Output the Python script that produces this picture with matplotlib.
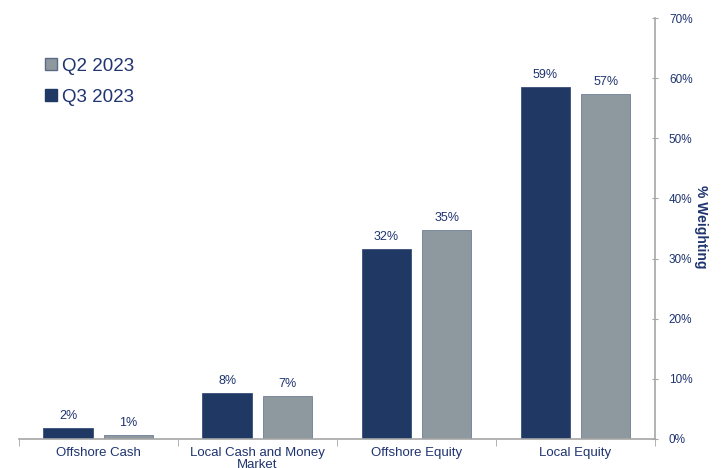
import numpy as np
from matplotlib import pyplot as plt
from matplotlib.lines import Line2D

categories = ["Offshore Cash", "Local Cash and Money\nMarket", "Offshore Equity", "Local Equity"]
q3_2023 = [1.8, 7.6, 31.6, 58.6]
q2_2023 = [0.7, 7.2, 34.7, 57.4]
q3_labels = ["2%", "8%", "32%", "59%"]
q2_labels = ["1%", "7%", "35%", "57%"]

navy = "#203864"
grey = "#8E999F"
text_c = "#1F3470"
axis_c = "#A6A6A6"

plt.rcParams['font.family'] = ['Liberation Sans', 'DejaVu Sans']

fig = plt.figure(figsize=(7.21, 4.68), dpi=100)
ax = fig.add_axes([0.026, 0.062, 0.8825, 0.8995])

x = np.arange(len(categories))
w = 0.31
off = 0.19
b3 = ax.bar(x - off, q3_2023, w, color=navy, edgecolor="#3A4F7A", linewidth=0.6)
b2 = ax.bar(x + off, q2_2023, w, color=grey, edgecolor="#6F7D95", linewidth=0.6)

for bars, labs in ((b3, q3_labels), (b2, q2_labels)):
    for r, lab in zip(bars, labs):
        ax.text(r.get_x() + r.get_width() / 2, r.get_height() + 1.0, lab,
                ha="center", va="bottom", fontsize=9, color=text_c)

ax.set_xlim(-0.5, 3.5)
ax.set_ylim(0, 70)
ax.yaxis.tick_right()
ax.yaxis.set_label_position("right")
ax.set_yticks(np.arange(0, 71, 10))
ax.set_yticklabels([f"{v}%" for v in range(0, 71, 10)])
ax.set_ylabel("% Weighting", rotation=270, fontsize=10,
              fontweight="bold", color=text_c, va="center")
ax.yaxis.set_label_coords(1.073, 0.504)

ax.set_xticks(x)
ax.set_xticklabels(categories, fontsize=9.5, color=text_c, linespacing=1.0)
ax.set_xticks(np.arange(-0.5, 3.6, 1), minor=True)
ax.tick_params(axis="x", which="major", length=0, pad=6)
ax.tick_params(axis="x", which="minor", length=5, color=axis_c, direction="out")
ax.tick_params(axis="y", length=4, direction="inout", color=axis_c,
               labelcolor=text_c, labelsize=8.5, pad=8)

for s in ("top", "left"):
    ax.spines[s].set_visible(False)
for s in ("right", "bottom"):
    ax.spines[s].set_color(axis_c)
    ax.spines[s].set_linewidth(1.2)

handles = [
    Line2D([], [], marker="s", linestyle="none", markersize=9,
           markerfacecolor=grey, markeredgecolor="#5A6A85", label="Q2 2023"),
    Line2D([], [], marker="s", linestyle="none", markersize=9,
           markerfacecolor=navy, markeredgecolor=navy, label="Q3 2023"),
]
leg = ax.legend(handles=handles, loc="upper left", bbox_to_anchor=(0.03, 0.924),
                frameon=False, fontsize=13.5, handlelength=0.6, handletextpad=0.3,
                labelspacing=0.75, borderaxespad=0)
for t in leg.get_texts():
    t.set_color(text_c)

fig.savefig("out.png", dpi=100)
